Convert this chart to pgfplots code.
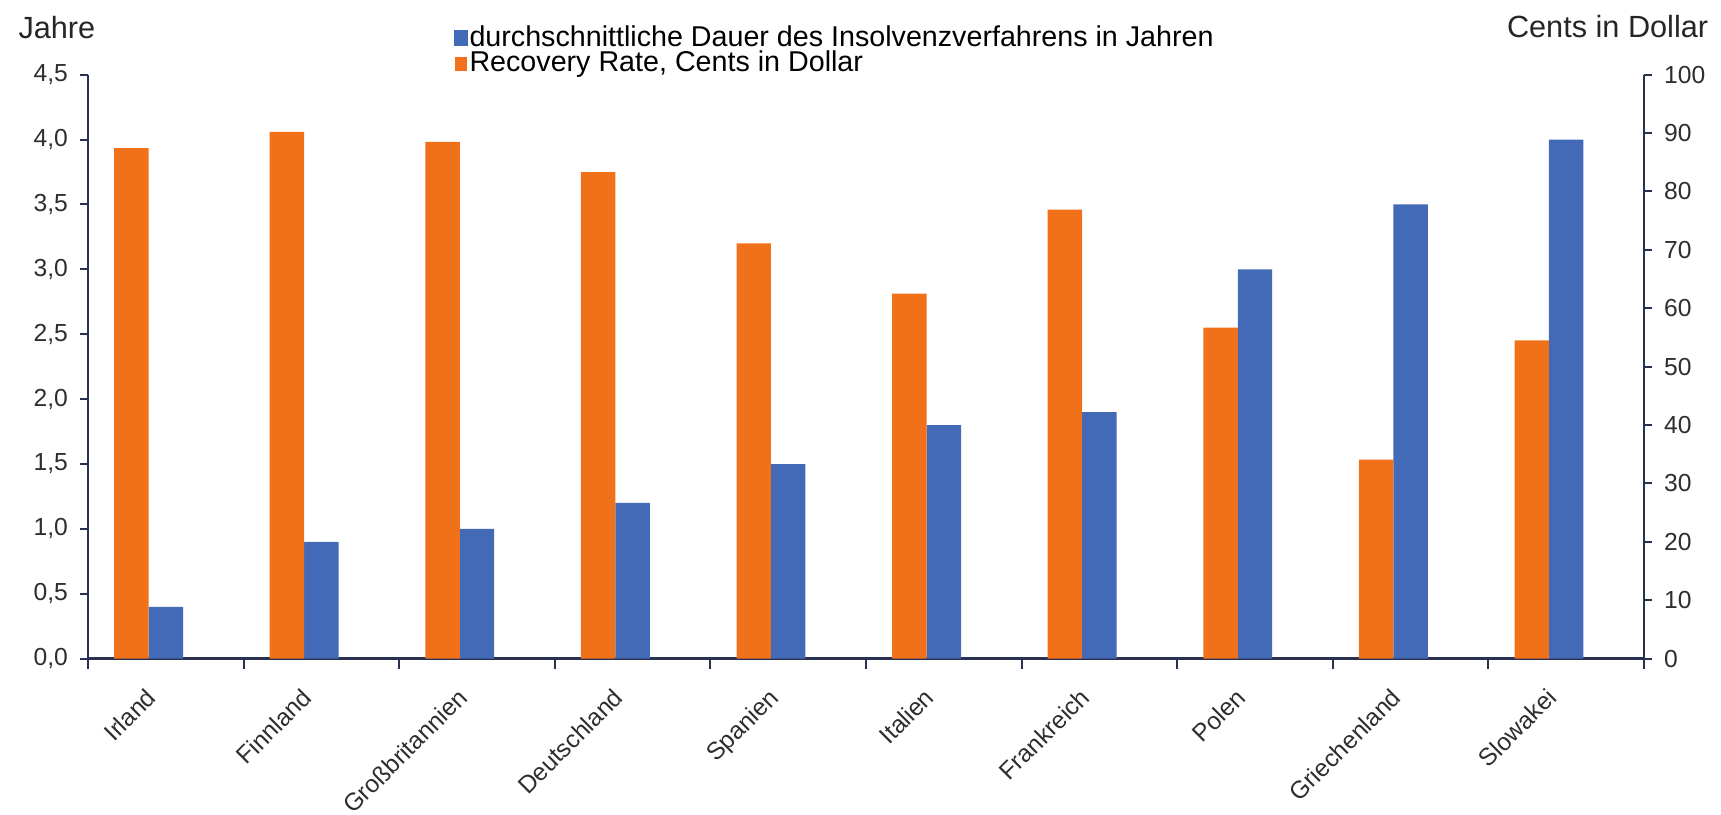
\documentclass[border=0pt]{standalone}
\usepackage{fontspec}
\setmainfont{Liberation Sans}
\usepackage{pgfplots}
\pgfplotsset{compat=1.18}
\definecolor{barorange}{RGB}{241,113,26}
\definecolor{barblue}{RGB}{67,106,182}
\definecolor{axcol}{RGB}{40,50,80}

\begin{document}
\begin{tikzpicture}
\pgfplotsset{
  common/.style={
    width=466.8pt, height=175.2pt, scale only axis,
    at={(0,0)}, anchor=south west,
    xmin=-0.5, xmax=9.5, ymin=0,
    clip=false,
    axis line style={axcol, line width=0.8pt},
    tick style={axcol, line width=0.6pt},
    tick align=outside,
    major tick length=2.5pt,
    minor tick length=3pt,
    ticklabel style={font=\fontsize{7.4}{8}\selectfont, text=black!82},
    /pgf/number format/assume math mode=true,
  }
}
\begin{axis}[common,
  axis x line*=bottom, axis y line*=left,
  ymax=4.5, ytick={0,0.5,1,1.5,2,2.5,3,3.5,4,4.5},
  yticklabel style={/pgf/number format/.cd, use comma, fixed, fixed zerofill, precision=1},
  xtick={0,1,2,3,4,5,6,7,8,9},
  xticklabels={Irland,Finnland,Großbritannien,Deutschland,Spanien,Italien,Frankreich,Polen,Griechenland,Slowakei},
  major x tick style={draw=none},
  minor xtick={-0.5,0.5,1.5,2.5,3.5,4.5,5.5,6.5,7.5,8.5,9.5},
  minor x tick style={axcol, line width=0.6pt},
  xticklabel style={rotate=45, anchor=north east, font=\fontsize{7.35}{9}\selectfont, inner sep=1pt, xshift=-7.4pt, yshift=1.4pt},
]
\addplot[ybar, bar width=0.2215, bar shift=0, fill=barblue, draw=none]
  coordinates {(0,0.4) (1,0.9) (2,1.0) (3,1.2) (4,1.5) (5,1.8) (6,1.9) (7,3.0) (8,3.5) (9,4.0)};
\end{axis}
\begin{axis}[common,
  axis x line=none, axis y line*=right,
  ymax=100, ytick={0,10,20,30,40,50,60,70,80,90,100},
  xtick=\empty,
  legend style={at={(rel axis cs:0.2347,1.089)}, anchor=north west, draw=none, fill=none,
    font=\fontsize{8.6}{8.25}\selectfont, inner sep=0pt, row sep=-1.2pt,
    nodes={inner sep=0.6pt}},
  legend cell align=left,
]
\addlegendimage{legend image code/.code={\fill[barblue] (0pt,-2.2pt) rectangle (3.7pt,2.2pt);}}
\addlegendentry{durchschnittliche Dauer des Insolvenzverfahrens in Jahren}
\addplot[ybar, bar width=0.2215, bar shift=-0.2215, fill=barorange, draw=none,
  legend image code/.code={\fill[barorange] (0pt,-2.2pt) rectangle (3.7pt,2.2pt);}]
  coordinates {(0,87.4) (1,90.2) (2,88.5) (3,83.3) (4,71.1) (5,62.5) (6,76.9) (7,56.7) (8,34.1) (9,54.5)};
\addlegendentry{Recovery Rate, Cents in Dollar}
\node[font=\fontsize{9.2}{10}\selectfont, text=black!85] at (rel axis cs:-0.020,1.081) {Jahre};
\node[font=\fontsize{9.2}{10}\selectfont, text=black!85] at (rel axis cs:0.9766,1.083) {Cents in Dollar};
\end{axis}
\pgfresetboundingbox
\useasboundingbox (-26.4pt,-46.6pt) rectangle (489.9pt,197.6pt);
\end{tikzpicture}
\end{document}
